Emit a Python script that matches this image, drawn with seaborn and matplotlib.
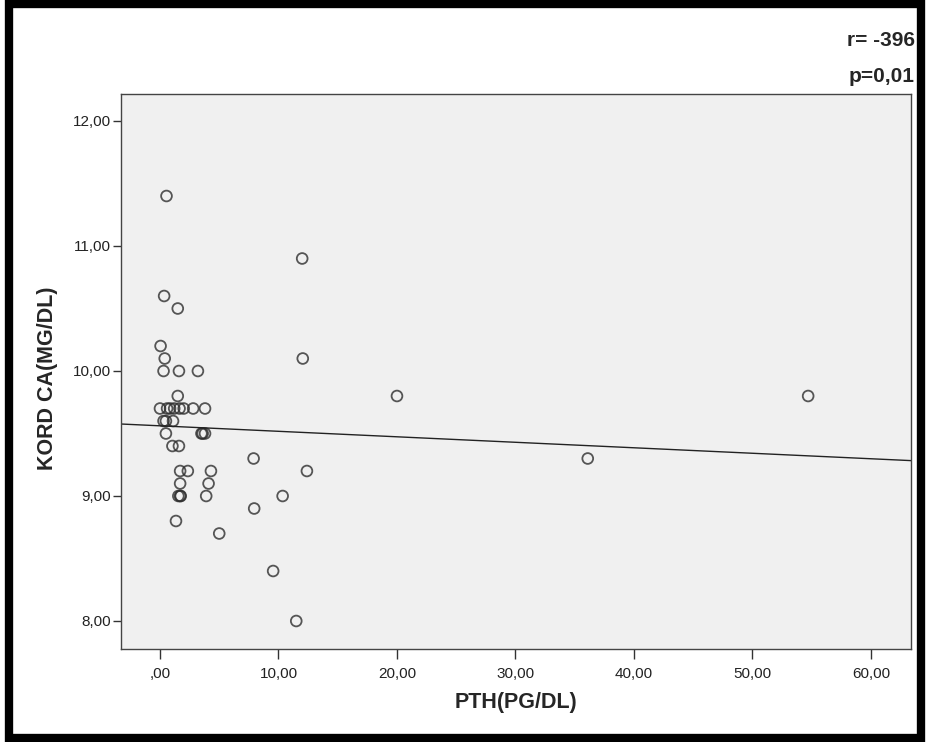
import numpy as np
import matplotlib
matplotlib.use("Agg")
import matplotlib.pyplot as plt
import seaborn as sns
from matplotlib.patches import Rectangle
from matplotlib.ticker import FuncFormatter

# PTH (pg/dl) vs cord calcium (mg/dl)
pth = [0.55, 12.0, 0.35, 1.5, 0.05, 0.4, 12.05, 0.3, 1.6, 3.2,
       1.5, 20.0, 54.7,
       0.0, 0.6, 0.85, 1.2, 1.65, 2.0, 2.8, 3.8,
       0.3, 0.5, 1.1,
       0.5, 3.5, 3.6, 3.8,
       1.05, 1.6,
       7.9, 36.1,
       1.7, 2.35, 4.3, 12.4,
       1.7, 4.1,
       1.55, 1.7, 1.75, 3.9, 10.35,
       7.95, 1.35, 5.0, 9.55, 11.5]
kord_ca = [11.4, 10.9, 10.6, 10.5, 10.2, 10.1, 10.1, 10.0, 10.0, 10.0,
           9.8, 9.8, 9.8,
           9.7, 9.7, 9.7, 9.7, 9.7, 9.7, 9.7, 9.7,
           9.6, 9.6, 9.6,
           9.5, 9.5, 9.5, 9.5,
           9.4, 9.4,
           9.3, 9.3,
           9.2, 9.2, 9.2, 9.2,
           9.1, 9.1,
           9.0, 9.0, 9.0, 9.0, 9.0,
           8.9, 8.8, 8.7, 8.4, 8.0]

x_ticks = [0, 10, 20, 30, 40, 50, 60]
y_ticks = [8, 9, 10, 11, 12]

sns.set_style("ticks")
plt.rcParams['font.family'] = ['Liberation Sans', 'DejaVu Sans']

fig = plt.figure(figsize=(9.26, 7.42), dpi=100)
ax = fig.add_axes([121 / 926, 93 / 742, 790 / 926, 555 / 742])
ax.set_facecolor('#f0f0f0')

# limits first so the fit line runs edge to edge
ax.set_xlim(-3.29, 63.38)
ax.set_ylim(7.776, 12.216)

sns.regplot(x=pth, y=kord_ca, ax=ax, ci=None, truncate=False,
  scatter_kws=dict(s=60, facecolors='none', edgecolors='#2e2e2e',
                   linewidths=1.3),
  line_kws=dict(color='#222222', lw=1.0))

ax.set_xlim(-3.29, 63.38)
ax.set_ylim(7.776, 12.216)
ax.set_xticks(x_ticks)
ax.set_yticks(y_ticks)

def comma_fmt(v, pos):
    s = f'{v:.2f}'.replace('.', ',')
    return s[1:] if s.startswith('0') else s

ax.xaxis.set_major_formatter(FuncFormatter(comma_fmt))
ax.yaxis.set_major_formatter(FuncFormatter(comma_fmt))
ax.tick_params(width=1, color='#333333', labelsize=11, labelcolor='#222222')
ax.tick_params(axis='x', length=7, pad=6)
ax.tick_params(axis='y', length=6, pad=1.5)

for sp in ax.spines.values():
    sp.set_visible(True)
    sp.set_color('#444444')
    sp.set_linewidth(1)

ax.set_xlabel('PTH(PG/DL)', fontsize=15.5, fontweight='bold', labelpad=8)
ax.set_ylabel('KORD CA(MG/DL)', fontsize=15.5, fontweight='bold')
ax.yaxis.set_label_coords(-0.08, 0.487)

fig.text(915 / 926, 1 - 40 / 742, 'r= -396', ha='right', va='center',
  fontsize=15, fontweight='bold')
fig.text(915 / 926, 1 - 76 / 742, 'p=0,01', ha='right', va='center',
  fontsize=15, fontweight='bold')

# thick black outer frame
fig.patches.append(Rectangle((9 / 926, 4 / 742), 912 / 926, 734 / 742,
  transform=fig.transFigure, fill=False, ec='black', lw=6))

fig.savefig('out.png', dpi=100)
